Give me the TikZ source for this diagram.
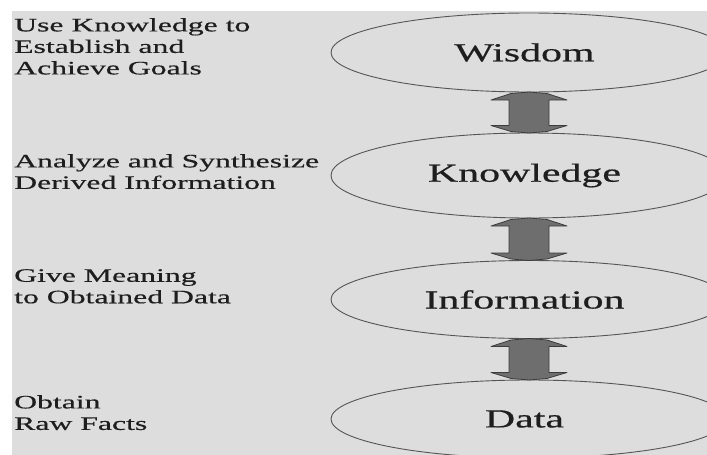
\documentclass[tikz,border=0pt]{standalone}
\usepackage{fontspec}
\usetikzlibrary{shapes.geometric,calc}
\setmainfont{Liberation Serif}
\newfontfamily\lblfont[FakeStretch=1.61,FakeBold=0.6]{Liberation Serif}
\newfontfamily\sidefont[FakeStretch=1.67,FakeBold=0.5]{Liberation Serif}
\definecolor{bggray}{RGB}{221,221,221}
\definecolor{ringgray}{RGB}{85,85,85}
\definecolor{arrowfill}{RGB}{110,110,110}
\definecolor{arrowline}{RGB}{60,60,60}
\definecolor{inkgray}{RGB}{30,30,30}
\tikzset{
  level/.style={ellipse, draw=ringgray, line width=0.9pt, minimum width=396pt,
    inner sep=0pt, outer sep=0pt},
  lvltext/.style={text=inkgray, font=\fontsize{26}{30}\selectfont\lblfont},
  sidetext/.style={anchor=north west, inner sep=0pt, align=left, text=inkgray,
    font=\fontsize{19}{21.5}\selectfont\sidefont},
  blockarrow/.style={fill=arrowfill, draw=arrowline, line width=0.8pt, line join=round}
}
\newcommand{\dblarrow}[2]{%
  \path[blockarrow] let \p1=(#1.south), \p2=(#2.north) in
    (\x1,\y1) -- (\x1+18pt,\y1-1.5pt) -- (\x1+38pt,\y1-8pt) -- (\x1+20pt,\y1-8pt)
    -- (\x1+20pt,\y2+7.5pt) -- (\x1+38pt,\y2+7.5pt) -- (\x1+18pt,\y2+1.5pt)
    -- (\x1,\y2) -- (\x1-18pt,\y2+1.5pt) -- (\x1-38pt,\y2+7.5pt) -- (\x1-20pt,\y2+7.5pt)
    -- (\x1-20pt,\y1-8pt) -- (\x1-38pt,\y1-8pt) -- (\x1-18pt,\y1-1.5pt) -- cycle;}
\begin{document}
\begin{tikzpicture}[x=1pt,y=-1pt]
\useasboundingbox (0,0) rectangle (707,455);
\clip (0,0) rectangle (707,455);
\fill[white] (0,0) rectangle (707,455);
\fill[bggray] (12,11) rectangle (707,455);

\node[level, minimum height=79pt,
  label={[lvltext, xshift=-4.5pt]center:Wisdom}] (w) at (529,52.5) {};
\node[level, minimum height=85pt,
  label={[lvltext, xshift=-4.5pt]center:Knowledge}] (k) at (529,175.5) {};
\node[level, minimum height=78pt,
  label={[lvltext, xshift=-4.5pt]center:Information}] (i) at (529,299.5) {};
\node[level, minimum height=78pt,
  label={[lvltext, xshift=-4.5pt]center:Data}] (d) at (529,419) {};

\dblarrow{w}{k}
\dblarrow{k}{i}
\dblarrow{i}{d}

\node[sidetext] (t1) at (14,18) {Use Knowledge to\\Establish and\\Achieve Goals};
\node[sidetext] (t2) at (14,154) {Analyze and Synthesize\\Derived Information};
\node[sidetext] (t3) at (14,269) {Give Meaning\\to Obtained Data};
\node[sidetext] (t4) at (14,395) {Obtain\\Raw Facts};
\end{tikzpicture}
\end{document}
